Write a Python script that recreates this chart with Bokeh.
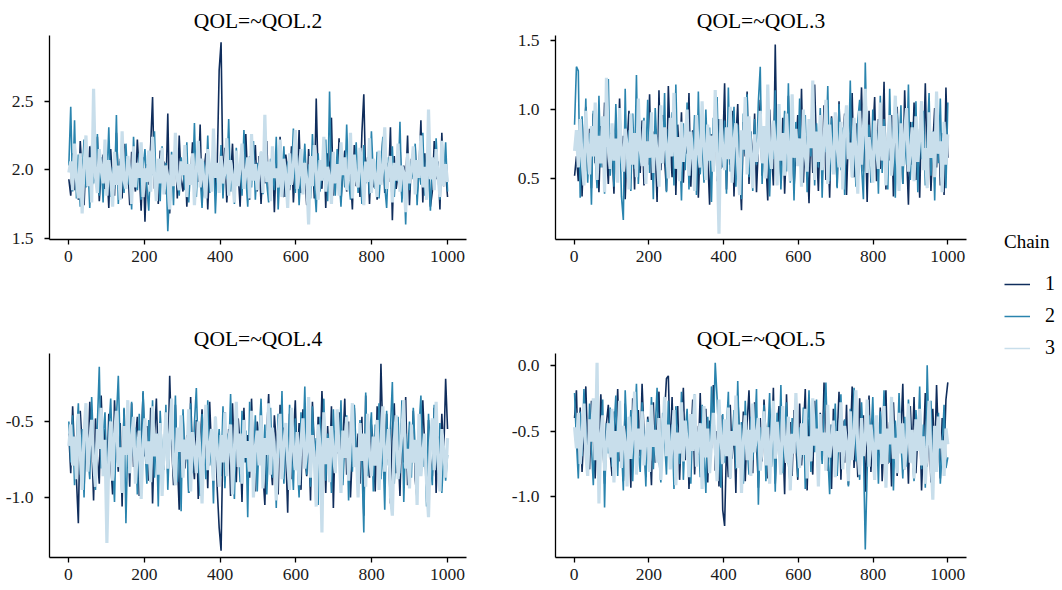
import numpy as np
from bokeh.plotting import figure
from bokeh.models import FixedTicker, PrintfTickFormatter, Range1d, Legend, LegendItem
from bokeh.layouts import row, column
from bokeh.embed import file_html
from bokeh.resources import INLINE

TITLES = ["QOL=~QOL.2", "QOL=~QOL.3", "QOL=~QOL.4", "QOL=~QOL.5"]
CHAINS = ["1", "2", "3"]
X_TICKS = [0, 200, 400, 600, 800, 1000]
Y_TICKS = [[1.5, 2.0, 2.5], [0.5, 1.0, 1.5], [-1.0, -0.5], [-1.0, -0.5, 0.0]]
COLORS = ["#0f2d5c", "#2a84ae", "#c8deeb"]
WIDTHS = [1.6, 1.6, 3.2]

# ---- QOL.2 ----
q2_chain1 = [
    1.93, 1.81, 2.12, 1.85, 2.05, 1.78, 2.21, 1.96, 1.74, 2.08, 1.88, 2.17, 1.83, 2.02, 1.92, 2.24, 1.77, 1.99, 2.11, 1.86,
    2.03, 1.72, 2.15, 1.90, 1.81, 2.27, 1.95, 2.06, 1.79, 2.19, 1.87, 2.01, 1.74, 2.13, 1.94, 1.84, 2.22, 1.98, 1.70, 2.09,
    1.62, 2.04, 1.89, 2.18, 2.53, 1.86, 1.97, 1.75, 2.14, 1.91, 2.06, 1.82, 2.41, 1.68, 2.00, 1.88, 2.16, 1.79, 2.25, 1.93,
    1.84, 2.10, 1.73, 2.02, 1.95, 2.20, 1.80, 2.07, 1.91, 2.33, 1.77, 1.99, 2.12, 1.71, 2.04, 1.87, 2.23, 1.83, 2.05, 2.73,
    2.93, 1.89, 2.16, 1.76, 2.01, 1.93, 2.19, 1.81, 2.08, 1.97, 1.73, 2.14, 1.86, 2.26, 1.92, 1.78, 2.05, 1.99, 2.18, 1.84,
    2.10, 1.75, 2.03, 1.90, 2.21, 1.82, 1.96, 2.13, 1.69, 2.07, 1.88, 2.24, 1.94, 1.80, 2.11, 2.00, 1.85, 2.17, 1.76, 2.02,
    1.91, 2.29, 1.83, 2.06, 1.97, 1.74, 2.15, 1.89, 2.08, 1.79, 2.52, 1.93, 2.01, 1.86, 2.20, 1.72, 2.12, 1.95, 2.38, 1.81,
    2.04, 1.90, 2.23, 1.77, 1.99, 2.14, 1.84, 2.07, 1.96, 1.71, 2.18, 1.88, 2.02, 1.80, 2.27, 2.55, 1.92, 2.09, 1.75, 2.16,
    1.87, 2.00, 1.78, 2.13, 1.94, 2.22, 1.83, 2.05, 1.91, 2.31, 1.63, 2.10, 1.86, 1.97, 2.19, 1.79, 2.03, 1.89, 2.25, 1.74,
    2.08, 1.95, 2.17, 1.82, 2.00, 2.36, 1.76, 2.12, 1.90, 2.04, 1.73, 1.84, 2.21, 1.93, 2.06, 1.71, 2.27, 1.88, 1.98, 1.80,
]
q2_chain2 = [
    2.03, 2.46, 1.84, 2.36, 1.79, 2.11, 1.73, 1.95, 2.22, 1.87, 2.05, 1.72, 2.18, 1.90, 1.99, 2.26, 1.81, 2.09, 1.76, 2.14,
    1.92, 2.31, 1.80, 2.02, 1.86, 2.40, 1.75, 2.08, 1.97, 1.83, 2.19, 1.89, 2.04, 1.71, 2.24, 1.94, 1.85, 2.12, 1.78, 2.01,
    2.15, 1.88, 1.70, 2.07, 1.96, 2.28, 1.82, 2.00, 1.77, 2.17, 1.91, 2.05, 1.55, 1.87, 2.13, 1.74, 2.23, 1.93, 1.81, 2.09,
    1.99, 1.85, 2.20, 1.76, 2.03, 1.90, 2.34, 1.80, 2.11, 1.95, 1.72, 2.06, 1.88, 2.25, 1.83, 1.98, 2.14, 1.68, 2.02, 1.91,
    2.18, 1.79, 2.07, 1.93, 2.37, 1.84, 2.00, 1.75, 2.16, 1.89, 2.04, 1.81, 2.29, 1.96, 1.73, 2.10, 1.87, 2.21, 1.78, 2.05,
    1.94, 2.13, 1.82, 2.39, 1.90, 1.76, 2.08, 1.99, 1.85, 2.24, 1.71, 2.02, 1.92, 2.17, 1.80, 2.06, 1.88, 1.97, 2.30, 1.83,
    2.11, 1.74, 2.01, 1.95, 2.19, 1.86, 2.04, 1.79, 2.26, 1.91, 1.69, 2.12, 1.84, 2.00, 1.93, 2.22, 1.77, 2.57, 1.89, 2.08,
    1.81, 2.15, 1.97, 1.73, 2.05, 1.87, 2.33, 1.92, 1.78, 2.10, 1.95, 2.20, 1.83, 2.03, 1.75, 2.18, 1.90, 2.07, 1.82, 2.28,
    1.96, 1.86, 2.13, 1.79, 2.01, 2.24, 1.88, 1.72, 2.09, 1.94, 2.17, 1.80, 2.04, 1.91, 2.35, 1.76, 1.99, 1.60, 2.11, 1.85,
    2.06, 1.93, 2.19, 1.74, 2.02, 1.89, 2.27, 1.81, 2.12, 1.97, 1.70, 2.08, 1.86, 2.23, 1.95, 1.78, 2.14, 1.90, 2.20, 1.84,
]
q2_chain3 = [
    1.98, 2.06, 1.85, 2.19, 1.93, 1.79, 2.12, 1.68, 2.02, 2.25, 1.88, 2.09, 1.76, 2.59, 1.95, 1.83, 2.15, 2.00, 1.90, 2.22,
    1.81, 2.07, 1.96, 1.73, 2.13, 1.89, 2.03, 1.78, 2.28, 1.92, 1.86, 2.10, 1.99, 1.75, 2.17, 1.87, 2.05, 1.94, 2.20, 1.80,
    2.01, 1.91, 2.14, 1.84, 2.24, 1.97, 1.77, 2.08, 1.90, 2.16, 1.82, 2.03, 1.95, 1.71, 2.11, 1.88, 2.27, 1.93, 1.85, 2.06,
    1.96, 2.18, 1.80, 2.04, 1.89, 2.12, 1.74, 1.99, 2.21, 1.87, 2.08, 1.92, 1.79, 2.15, 2.01, 1.84, 2.30, 1.94, 2.05, 1.83,
    2.10, 1.90, 1.98, 2.23, 1.81, 2.07, 1.95, 1.76, 2.14, 1.88, 2.02, 2.19, 1.86, 1.97, 2.09, 1.79, 2.26, 1.92, 2.04, 1.85,
    1.99, 2.13, 1.83, 2.40, 1.91, 2.06, 1.77, 2.17, 1.94, 2.01, 1.87, 2.22, 1.80, 2.08, 1.96, 1.72, 2.12, 1.89, 2.03, 2.29,
    1.86, 1.97, 2.15, 1.82, 2.05, 1.93, 1.60, 2.10, 1.88, 2.18, 1.99, 1.78, 2.07, 1.92, 2.24, 1.84, 2.02, 1.95, 1.75, 2.13,
    1.90, 2.04, 1.81, 2.20, 1.96, 2.09, 1.85, 1.98, 2.27, 1.79, 2.11, 1.93, 1.87, 2.16, 2.00, 1.74, 2.06, 1.91, 2.23, 1.83,
    2.08, 1.95, 1.80, 2.14, 1.89, 2.01, 2.31, 1.86, 1.97, 2.10, 1.76, 2.05, 1.92, 2.19, 1.84, 2.03, 1.98, 1.69, 2.12, 1.90,
    2.00, 2.17, 1.82, 2.07, 1.94, 2.25, 1.87, 2.02, 1.78, 2.44, 1.93, 2.09, 1.85, 2.15, 1.96, 1.80, 2.21, 1.88, 2.04, 1.91,
]

# ---- QOL.3 ----
q3_chain1 = [
    0.52, 0.66, 0.48, 0.91, 0.37, 0.79, 1.02, 0.55, 0.86, 0.43, 0.97, 0.61, 0.74, 0.40, 0.88, 0.58, 1.05, 0.69, 0.46, 0.83,
    0.72, 0.39, 0.94, 0.57, 1.08, 0.63, 0.81, 0.35, 0.76, 0.99, 0.50, 0.87, 0.42, 1.03, 0.67, 0.54, 0.92, 0.45, 0.78, 0.60,
    1.11, 0.49, 0.84, 0.71, 0.33, 1.14, 0.56, 0.96, 0.64, 0.41, 1.17, 0.75, 0.51, 1.06, 0.38, 0.89, 0.62, 0.98, 0.47, 0.80,
    0.68, 1.12, 0.44, 0.85, 0.59, 0.95, 0.36, 0.77, 1.01, 0.53, 0.90, 0.65, 0.31, 0.82, 0.73, 1.09, 0.48, 0.93, 0.57, 0.70,
    1.19, 0.42, 0.86, 0.60, 0.99, 0.37, 0.79, 1.04, 0.55, 0.27, 0.91, 0.66, 1.13, 0.46, 0.84, 0.58, 0.97, 0.40, 0.74, 1.07,
    0.52, 0.88, 0.63, 0.34, 1.00, 0.71, 0.45, 1.47, 0.61, 0.83, 0.50, 0.94, 0.39, 0.77, 1.10, 0.56, 0.87, 0.43, 0.69, 0.96,
    0.59, 1.15, 0.47, 0.81, 0.65, 0.32, 0.92, 0.54, 1.18, 0.72, 0.41, 0.89, 0.60, 1.03, 0.49, 0.78, 0.36, 0.95, 0.67, 0.85,
    0.44, 1.06, 0.58, 0.76, 0.97, 0.38, 0.82, 0.64, 1.12, 0.51, 0.90, 0.45, 0.73, 1.16, 0.55, 0.86, 0.33, 0.99, 0.62, 0.80,
    1.09, 0.48, 0.93, 0.57, 0.70, 1.20, 0.42, 0.84, 0.63, 0.96, 0.37, 0.79, 1.02, 0.53, 0.88, 0.46, 1.14, 0.68, 0.31, 0.91,
    0.60, 1.05, 0.49, 0.81, 0.36, 0.97, 0.66, 1.19, 0.54, 0.87, 0.41, 0.75, 1.01, 0.58, 0.92, 0.45, 0.83, 0.38, 1.16, 0.65,
]
q3_chain2 = [
    0.89, 1.31, 1.28, 0.36, 0.95, 0.60, 1.08, 0.47, 0.83, 0.31, 0.99, 0.66, 0.43, 1.10, 0.58, 0.87, 0.39, 0.92, 1.22, 0.52,
    0.78, 0.44, 1.04, 0.63, 0.91, 0.37, 0.20, 1.15, 0.50, 0.85, 0.41, 0.97, 0.57, 1.25, 0.46, 0.80, 0.69, 0.94, 0.64, 1.07,
    0.54, 0.88, 0.35, 1.01, 0.71, 0.48, 0.93, 0.61, 1.12, 0.40, 0.86, 0.67, 0.98, 0.45, 1.18, 0.59, 0.76, 0.34, 0.90, 0.56,
    1.05, 0.42, 0.84, 0.65, 0.96, 0.38, 1.13, 0.53, 0.79, 0.47, 1.00, 0.62, 0.87, 0.33, 0.94, 0.70, 1.09, 0.49, 0.81, 0.58,
    0.92, 0.39, 1.16, 0.55, 0.75, 1.02, 0.44, 0.89, 0.63, 0.35, 0.97, 0.68, 1.11, 0.51, 0.84, 0.41, 0.93, 0.60, 1.06, 1.31,
    0.46, 0.86, 0.57, 1.03, 0.37, 0.80, 0.64, 1.14, 0.50, 0.95, 0.42, 0.73, 0.99, 0.55, 1.19, 0.47, 0.88, 0.34, 0.91, 0.62,
    1.08, 0.52, 0.77, 0.96, 0.40, 0.85, 0.66, 1.12, 0.45, 0.90, 0.58, 1.01, 0.36, 0.82, 0.69, 1.17, 0.48, 0.94, 0.61, 0.79,
    0.43, 1.04, 0.56, 0.87, 0.38, 0.98, 0.65, 1.21, 0.51, 0.83, 0.44, 0.92, 1.07, 0.59, 0.35, 1.34, 0.72, 0.89, 0.47, 1.00,
    0.63, 0.85, 0.39, 1.10, 0.54, 0.93, 0.68, 0.42, 1.15, 0.57, 0.88, 0.36, 0.97, 0.70, 1.03, 0.46, 0.81, 0.60, 1.18, 0.49,
    0.91, 0.55, 1.06, 0.40, 0.86, 0.64, 0.99, 0.45, 0.78, 1.12, 0.52, 0.84, 0.34, 0.95, 0.61, 1.08, 0.47, 0.89, 0.43, 1.05,
]
q3_chain3 = [
    0.70, 0.85, 0.58, 0.93, 0.64, 0.45, 0.99, 0.72, 0.53, 0.88, 0.66, 1.05, 0.49, 0.81, 0.61, 0.95, 0.40, 1.23, 0.75, 0.57,
    0.90, 0.63, 0.79, 0.47, 1.01, 0.68, 0.55, 0.86, 0.74, 0.42, 0.97, 0.60, 0.83, 0.51, 1.08, 0.71, 0.59, 0.92, 0.46, 0.77,
    0.65, 0.98, 0.54, 0.82, 0.69, 0.44, 1.03, 0.61, 0.87, 0.73, 0.50, 0.94, 0.66, 1.12, 0.57, 0.80, 0.48, 0.91, 0.62, 0.76,
    1.00, 0.52, 0.84, 0.67, 0.41, 0.96, 0.70, 0.58, 1.06, 0.74, 0.49, 0.89, 0.63, 0.81, 0.55, 1.14, 0.68, 0.10, 0.93, 0.72,
    0.56, 0.87, 0.64, 1.02, 0.47, 0.78, 0.90, 0.60, 0.38, 0.85, 0.71, 1.09, 0.53, 0.95, 0.66, 0.43, 0.82, 0.62, 0.75, 0.99,
    0.61, 0.88, 0.50, 1.18, 0.69, 0.57, 0.92, 0.74, 0.45, 1.04, 0.63, 0.83, 0.52, 0.97, 0.70, 0.48, 1.11, 0.65, 0.86, 0.59,
    0.79, 0.44, 1.00, 0.67, 0.55, 0.93, 0.72, 1.21, 0.49, 0.84, 0.62, 0.96, 0.56, 0.77, 1.07, 0.46, 0.89, 0.68, 0.53, 0.98,
    0.73, 0.58, 0.91, 0.42, 0.86, 1.03, 0.64, 0.76, 0.51, 0.94, 0.70, 0.39, 0.99, 0.60, 0.85, 1.15, 0.54, 0.80, 0.67, 0.47,
    0.92, 0.71, 0.57, 1.05, 0.63, 0.88, 0.45, 0.78, 0.96, 0.52, 0.74, 1.10, 0.66, 0.41, 0.90, 0.59, 0.83, 1.01, 0.55, 0.69,
    0.87, 0.48, 0.95, 0.62, 0.79, 1.06, 0.56, 0.72, 0.43, 0.98, 0.65, 0.84, 0.51, 1.13, 0.68, 0.77, 0.40, 0.91, 0.60, 0.82,
]

# ---- QOL.4 ----
q4_chain1 = [
    -0.58, -0.84, -0.40, -0.71, -0.88, -1.17, -0.43, -0.66, -0.95, -0.52, -0.79, -0.37, -0.62, -1.02, -0.48, -0.74, -0.91, -0.33, -0.69, -0.55,
    -0.87, -0.45, -0.76, -0.98, -0.36, -0.64, -0.83, -0.51, -1.06, -0.42, -0.70, -0.57, -0.93, -0.38, -0.80, -0.61, -0.47, -0.99, -0.67, -0.31,
    -0.73, -0.53, -0.89, -0.41, -1.04, -0.60, -0.35, -0.78, -0.50, -0.96, -0.68, -0.44, -0.85, -0.20, -0.63, -0.92, -0.39, -0.75, -1.08, -0.54,
    -0.46, -0.81, -0.59, -0.97, -0.34, -0.72, -0.88, -0.49, -1.01, -0.65, -0.42, -0.79, -0.56, -0.94, -0.37, -0.70, -0.86, -0.52, -0.95, -1.20,
    -1.35, -0.61, -0.44, -0.83, -0.55, -0.99, -0.38, -0.74, -0.90, -0.48, -0.66, -1.03, -0.41, -0.77, -0.59, -0.87, -0.35, -0.71, -0.96, -0.50,
    -0.68, -0.43, -0.84, -1.05, -0.57, -0.32, -0.76, -0.92, -0.46, -0.63, -0.98, -0.39, -0.81, -0.54, -0.70, -1.10, -0.45, -0.88, -0.60, -0.36,
    -0.79, -0.51, -0.95, -0.42, -0.73, -0.86, -0.58, -1.02, -0.37, -0.67, -0.89, -0.47, -0.75, -0.30, -0.62, -0.97, -0.53, -0.82, -0.40, -1.07,
    -0.56, -0.71, -0.44, -0.93, -0.64, -0.35, -0.85, -0.50, -1.00, -0.69, -0.41, -0.78, -0.58, -0.91, -0.47, -1.12, -0.33, -0.74, -0.87, -0.52,
    -0.65, -0.96, -0.40, -0.80, -0.12, -0.61, -0.90, -0.45, -0.73, -1.04, -0.55, -0.38, -0.84, -0.68, -0.99, -0.48, -0.77, -0.34, -0.92, -0.59,
    -0.70, -0.43, -0.88, -1.01, -0.53, -0.79, -0.36, -0.66, -0.94, -0.49, -0.75, -0.86, -0.41, -0.97, -0.60, -0.83, -0.45, -0.72, -0.22, -0.55,
]
q4_chain2 = [
    -0.50, -0.77, -0.46, -0.92, -0.63, -0.38, -0.85, -0.55, -1.00, -0.42, -0.71, -0.88, -0.34, -0.67, -0.95, -0.52, -0.14, -0.81, -0.60, -0.44,
    -0.89, -0.57, -0.35, -0.76, -1.03, -0.48, -0.20, -0.69, -0.93, -0.41, -1.17, -0.62, -0.84, -0.37, -0.73, -0.54, -0.98, -0.45, -0.80, -0.30,
    -0.66, -0.91, -0.49, -0.74, -0.36, -0.87, -0.58, -1.06, -0.43, -0.70, -0.82, -0.39, -0.95, -0.61, -0.47, -0.78, -0.33, -0.90, -0.56, -1.09,
    -0.42, -0.75, -0.63, -0.97, -0.38, -0.84, -0.51, -0.28, -0.72, -0.99, -0.45, -0.67, -0.88, -0.36, -0.79, -0.60, -1.04, -0.47, -0.71, -0.55,
    -0.86, -0.40, -0.94, -0.58, -0.73, -0.32, -0.81, -1.01, -0.49, -0.65, -0.90, -0.43, -0.77, -0.56, -1.13, -0.37, -0.69, -0.84, -0.46, -0.96,
    -0.59, -0.35, -0.80, -0.52, -0.98, -0.67, -0.41, -0.87, -0.62, -1.07, -0.45, -0.74, -0.30, -0.91, -0.57, -0.83, -0.39, -0.70, -0.95, -0.48,
    -0.76, -1.00, -0.44, -0.68, -0.27, -0.85, -0.54, -0.93, -0.40, -0.72, -0.61, -1.05, -0.47, -0.79, -0.35, -0.89, -0.58, -0.66, -0.97, -0.42,
    -0.81, -0.53, -0.74, -0.36, -0.92, -0.63, -0.46, -1.02, -0.57, -0.83, -0.39, -0.70, -0.94, -0.49, -0.77, -1.23, -0.31, -0.86, -0.60, -0.44,
    -0.96, -0.52, -0.71, -0.38, -0.88, -0.65, -1.08, -0.43, -0.79, -0.55, -0.24, -0.91, -0.62, -0.47, -0.84, -0.36, -1.03, -0.58, -0.73, -0.50,
    -0.87, -0.41, -0.68, -0.99, -0.54, -0.33, -0.80, -0.61, -1.06, -0.45, -0.76, -0.92, -0.39, -0.64, -0.85, -0.51, -0.97, -0.70, -0.89, -0.72,
]
q4_chain3 = [
    -0.66, -0.52, -0.79, -0.60, -0.88, -0.45, -0.71, -0.95, -0.57, -0.38, -0.83, -0.64, -0.49, -0.76, -0.93, -0.55, -0.68, -0.41, -0.86, -0.62,
    -1.30, -0.74, -0.50, -0.89, -0.59, -0.43, -0.80, -0.67, -0.97, -0.53, -0.72, -0.36, -0.84, -0.61, -0.47, -0.91, -0.70, -0.56, -1.01, -0.65,
    -0.48, -0.78, -0.63, -0.90, -0.40, -0.73, -0.58, -0.85, -0.51, -0.99, -0.69, -0.44, -0.81, -0.60, -0.35, -0.77, -0.92, -0.54, -0.70, -0.46,
    -0.87, -0.62, -0.75, -0.42, -0.96, -0.57, -0.68, -0.84, -0.50, -0.73, -1.04, -0.61, -0.39, -0.82, -0.66, -0.55, -0.89, -0.47, -0.71, -0.93,
    -0.59, -0.77, -0.44, -0.86, -0.64, -0.52, -0.98, -0.69, -0.37, -0.80, -0.58, -0.91, -0.49, -0.74, -0.63, -0.83, -0.43, -1.00, -0.67, -0.56,
    -0.79, -0.46, -0.94, -0.61, -0.72, -0.38, -0.85, -0.54, -0.70, -1.02, -0.60, -0.45, -0.88, -0.65, -0.51, -0.76, -0.95, -0.41, -0.68, -0.82,
    -0.57, -0.92, -0.63, -0.48, -0.81, -0.70, -0.34, -0.87, -0.59, -0.75, -1.06, -0.52, -0.66, -1.23, -0.44, -0.78, -0.61, -0.90, -0.53, -0.71,
    -0.84, -0.42, -0.69, -0.97, -0.56, -0.74, -0.47, -0.89, -0.62, -0.38, -0.80, -0.67, -1.00, -0.51, -0.76, -0.58, -0.93, -0.45, -0.72, -0.86,
    -0.60, -0.79, -0.49, -0.95, -0.65, -0.40, -0.83, -0.71, -0.55, -0.99, -1.12, -0.63, -0.46, -0.88, -0.73, -0.57, -0.36, -0.81, -0.68, -0.94,
    -0.52, -0.77, -0.62, -1.05, -0.45, -0.86, -0.70, -0.58, -0.91, -1.13, -0.64, -0.48, -0.82, -0.37, -0.75, -0.96, -0.55, -0.69, -0.87, -0.61,
]

# ---- QOL.5 ----
q5_chain1 = [
    -0.40, -0.19, -0.75, -0.32, -0.81, -0.48, -0.16, -0.62, -0.79, -0.27, -0.56, -0.86, -0.38, -0.70, -0.22, -0.53, -0.90, -0.44, -0.30, -0.67,
    -0.84, -0.35, -0.59, -0.18, -0.73, -0.47, -0.88, -0.29, -0.64, -0.41, -0.93, -0.25, -0.55, -0.78, -0.34, -0.69, -0.14, -0.51, -0.85, -0.39,
    -0.60, -0.91, -0.28, -0.74, -0.45, -0.20, -0.82, -0.57, -0.36, -0.10, -0.08, -0.66, -0.24, -0.79, -0.52, -0.31, -0.87, -0.49, -0.17, -0.72,
    -0.37, -0.94, -0.58, -0.26, -0.83, -0.46, -0.68, -0.21, -0.77, -0.54, -0.33, -0.89, -0.42, -0.63, -0.15, -0.80, -0.50, -0.92, -0.38, -1.10,
    -1.22, -0.61, -0.85, -0.30, -0.71, -0.47, -0.97, -0.23, -0.56, -0.76, -0.35, -0.88, -0.44, -0.19, -0.67, -0.82, -0.28, -0.58, -0.93, -0.40,
    -0.73, -0.26, -0.52, -0.86, -0.37, -0.64, -0.17, -0.90, -0.48, -0.31, -0.79, -0.55, -0.98, -0.22, -0.69, -0.43, -0.84, -0.34, -0.60, -0.87,
    -0.29, -0.76, -0.51, -0.18, -0.95, -0.41, -0.66, -0.83, -0.27, -0.57, -0.89, -0.36, -0.72, -0.13, -0.62, -0.80, -0.45, -0.94, -0.33, -0.68,
    -0.55, -0.20, -0.87, -0.42, -0.74, -0.30, -0.91, -0.59, -0.16, -0.78, -0.49, -0.85, -0.25, -0.65, -0.38, -0.96, -0.53, -0.23, -0.81, -0.41,
    -0.62, -0.46, -0.70, -0.32, -0.88, -0.57, -0.19, -0.75, -0.43, -0.92, -0.28, -0.63, -0.84, -0.36, -0.52, -0.14, -0.79, -0.47, -0.90, -0.31,
    -0.67, -0.24, -0.82, -0.54, -0.39, -0.95, -0.60, -0.21, -0.77, -0.44, -0.89, -0.33, -0.71, -0.15, -0.58, -0.86, -0.40, -0.69, -0.26, -0.13,
]
q5_chain2 = [
    -0.21, -0.58, -0.86, -0.35, -0.69, -0.18, -0.47, -0.80, -0.29, -0.62, -0.91, -0.40, -0.15, -0.73, -0.54, -0.26, -1.08, -0.44, -0.67, -0.32,
    -0.77, -0.50, -0.23, -0.84, -0.38, -0.61, -0.95, -0.19, -0.56, -0.72, -0.34, -0.88, -0.46, -0.14, -0.66, -0.81, -0.28, -0.53, -0.92, -0.41,
    -0.63, -0.24, -0.79, -0.48, -0.17, -0.70, -0.89, -0.36, -0.57, -0.83, -0.27, -0.65, -0.45, -0.94, -0.31, -0.59, -0.75, -0.20, -0.87, -0.51,
    -0.33, -0.68, -0.90, -0.42, -0.22, -0.76, -0.55, -0.85, -0.30, -0.64, -0.97, -0.39, -0.71, -0.16, -0.52, 0.02, -0.25, -0.60, -0.93, -0.37,
    -0.74, -0.49, -0.20, -0.86, -0.58, -0.34, -0.79, -0.12, -0.66, -0.43, -0.90, -0.27, -0.61, -0.83, -0.39, -0.72, -0.53, -0.18, -1.06, -0.47,
    -0.64, -0.30, -0.88, -0.55, -0.21, -0.77, -0.44, -0.96, -0.36, -0.69, -0.15, -0.82, -0.50, -0.28, -0.74, -0.91, -0.40, -0.63, -0.23, -0.85,
    -0.47, -0.70, -0.32, -0.94, -0.57, -0.19, -0.81, -0.43, -0.66, -0.26, -0.89, -0.52, -0.75, -0.37, -0.13, -0.68, -0.98, -0.45, -0.60, -0.29,
    -0.84, -0.54, -0.22, -0.78, -0.41, -0.65, -0.92, -0.33, -0.59, -0.17, -0.73, -0.48, -0.87, -0.28, -0.62, -1.40, -0.80, -0.38, -0.56, -0.24,
    -0.71, -0.46, -0.90, -0.35, -0.63, -0.19, -0.82, -0.51, -0.74, -0.30, -0.95, -0.42, -0.67, -0.21, -0.58, -0.86, -0.39, -0.77, -0.26, -0.53,
    -0.69, -0.88, -0.34, -0.60, -0.16, -0.79, -0.45, -0.93, 0.00, -0.57, -0.27, -0.84, -0.50, -0.72, -0.36, -0.90, -0.62, -0.30, -0.78, -0.70,
]
q5_chain3 = [
    -0.47, -0.63, -0.36, -0.75, -0.52, -0.29, -0.68, -0.84, -0.41, -0.58, -0.25, -0.72, 0.02, -1.05, -0.55, -0.38, -0.80, -0.61, -0.44, -0.70,
    -0.33, -0.89, -0.50, -0.66, -0.27, -0.78, -0.46, -0.59, -0.92, -0.39, -0.71, -0.54, -0.20, -0.83, -0.48, -0.64, -0.35, -0.76, -0.57, -0.43,
    -0.81, -0.30, -0.62, -0.49, -0.74, -0.40, -0.87, -0.56, -0.24, -0.69, -0.45, -0.79, -0.60, -0.34, -0.91, -0.51, -0.67, -0.28, -0.73, -0.42,
    -0.58, -0.85, -0.37, -0.65, -0.22, -0.77, -0.53, -0.44, -0.94, -0.31, -0.70, -0.48, -0.82, -0.59, -0.36, -0.63, -0.88, -0.26, -0.55, -0.75,
    -0.41, -0.69, -0.32, -0.86, -0.50, -0.61, -0.23, -0.78, -0.45, -0.97, -0.57, -0.38, -0.72, -0.49, -0.84, -0.29, -0.66, -0.53, -0.40, -0.80,
    -0.62, -0.35, -0.76, -0.47, -0.90, -0.56, -0.27, -0.71, -0.43, -0.64, -0.83, -0.31, -0.58, -0.74, -0.39, -0.95, -0.52, -0.67, -0.21, -0.60,
    -0.78, -0.44, -0.68, -0.33, -0.86, -0.54, -0.73, -0.25, -0.61, -0.48, -0.92, -0.37, -0.65, -0.51, -0.80, -0.30, -0.70, -0.57, -0.42, -0.85,
    -0.50, -0.66, -0.28, -0.79, -0.46, -0.59, -0.88, -0.35, -0.72, -0.53, -0.19, -0.63, -0.83, -0.40, -0.69, -0.56, -0.26, -0.77, -0.45, -0.61,
    -0.87, -0.38, -0.64, -0.52, -0.75, -0.31, -0.93, -0.48, -0.60, -0.24, -0.71, -0.55, -0.82, -0.36, -0.67, -0.44, -0.79, -0.58, -0.29, -0.74,
    -0.49, -0.86, -0.41, -0.65, -0.33, -0.76, -0.54, -0.90, -0.62, -0.27, -0.70, -1.02, -0.46, -0.81, -0.39, -0.63, -0.57, -0.84, -0.48, -0.60,
]

PANELS = [
    [q2_chain1, q2_chain2, q2_chain3],
    [q3_chain1, q3_chain2, q3_chain3],
    [q4_chain1, q4_chain2, q4_chain3],
    [q5_chain1, q5_chain2, q5_chain3],
]
Y_RANGES = [(1.49, 2.98), (0.058, 1.536), (-1.395, -0.053), (-1.46, 0.09)]

SERIF = "Liberation Serif"
TEXT_COL = "#1a1a1a"


def make_panel(k, width, height, left, right, top, bottom):
    p = figure(width=width, height=height, output_backend="svg", toolbar_location=None,
               x_range=Range1d(-50, 1050), y_range=Range1d(*Y_RANGES[k]),
               min_border_left=left, min_border_right=right,
               min_border_top=top, min_border_bottom=bottom)
    p.title.text = TITLES[k]
    p.title.align = "center"
    p.title.text_font = SERIF
    p.title.text_font_style = "normal"
    p.title.text_font_size = "21.5px"
    p.title.text_color = "#000000"
    p.title.standoff = 6
    p.title.offset = 0
    p.grid.visible = False
    p.outline_line_color = None
    p.background_fill_color = "white"
    p.border_fill_color = "white"
    for vals, col, lw in zip(PANELS[k], COLORS, WIDTHS):
        x = np.linspace(1, 1000, len(vals))
        p.line(x, vals, line_color=col, line_width=lw, line_join="bevel")
    p.xaxis.ticker = FixedTicker(ticks=X_TICKS)
    p.yaxis.ticker = FixedTicker(ticks=Y_TICKS[k])
    p.yaxis.formatter = PrintfTickFormatter(format="%.1f")
    for ax in (p.xaxis[0], p.yaxis[0]):
        ax.axis_line_color = "black"
        ax.axis_line_width = 1.3
        ax.major_tick_line_color = "black"
        ax.major_tick_line_width = 1.3
        ax.major_tick_out = 5
        ax.major_tick_in = 0
        ax.minor_tick_line_color = None
        ax.major_label_text_font = SERIF
        ax.major_label_text_font_size = "17.5px"
        ax.major_label_text_color = TEXT_COL
    p.xaxis.major_label_standoff = 6
    p.yaxis.major_label_standoff = 11
    return p


p1 = make_panel(0, 508, 318, 49, 42, 35, 79)
p2 = make_panel(1, 468, 318, 41, 10, 35, 79)
p3 = make_panel(2, 508, 272, 49, 42, 35, 33)
p4 = make_panel(3, 468, 272, 41, 10, 35, 33)

pl = figure(width=86, height=590, output_backend="svg", toolbar_location=None,
            x_axis_location=None, y_axis_location=None, min_border=0,
            x_range=Range1d(0, 1), y_range=Range1d(0, 1))
pl.grid.visible = False
pl.outline_line_color = None
# placeholder renderers (outside the visible range) that only feed the legend
rs = [pl.line([5, 6], [5, 6], line_color=c, line_width=1.5) for c in COLORS]
leg = Legend(items=[LegendItem(label=c, renderers=[r]) for c, r in zip(CHAINS, rs)],
             title="Chain", location=(28, 231), padding=0, margin=0, spacing=9,
             glyph_width=26, glyph_height=22, label_height=22, label_standoff=15,
             title_standoff=19, border_line_color=None, background_fill_alpha=0,
             label_text_font=SERIF, label_text_font_size="20px", label_text_color="#000000",
             title_text_font=SERIF, title_text_font_size="19px", title_text_font_style="normal",
             title_text_color="#000000")
pl.add_layout(leg)

layout = row(column(p1, p3), column(p2, p4), pl)
open("out.html", "w").write(file_html(layout, INLINE))
